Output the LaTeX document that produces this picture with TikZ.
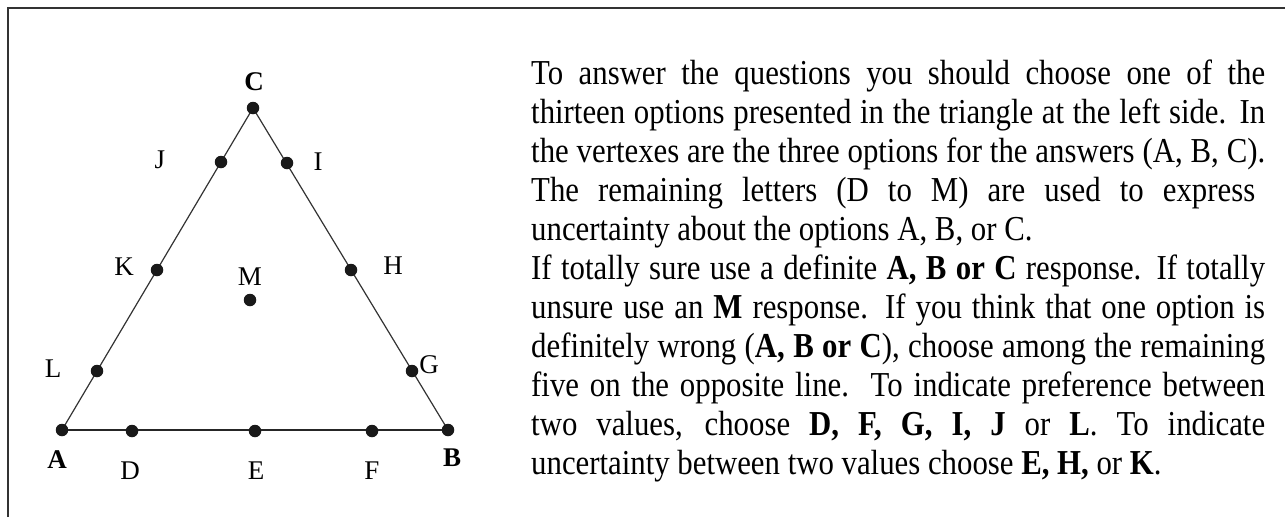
\documentclass[tikz,border=0pt]{standalone}
\usepackage{fontspec}
\setmainfont{Liberation Serif}[FakeStretch=0.88]
\newfontfamily\lblfont{Liberation Serif}
\begin{document}
\begin{tikzpicture}[x=1pt,y=-1pt,
  optdot/.style={circle, fill=black!90, inner sep=0pt, minimum size=12.5pt},
  optlbl/.style={inner sep=0pt, font=\lblfont\fontsize{27}{29}\selectfont},
  vtxlbl/.style={inner sep=0pt, font=\lblfont\fontsize{27}{29}\selectfont\bfseries},
  textline/.style={anchor=base west, inner sep=0pt, font=\fontsize{35}{39}\selectfont},
  sideedge/.style={line width=1.2pt, black!80},
  baseedge/.style={line width=2.2pt, black!85},
  framebar/.style={line width=2pt, black!80}]
\useasboundingbox (0,0) rectangle (1285,517);
% frame
\coordinate (fr1) at (8,517);
\coordinate (fr2) at (8,8);
\coordinate (fr3) at (1285,8);
\draw[framebar] (fr1) -- (fr2) -- (fr3);
% vertex positions
\coordinate (A) at (62,430);
\coordinate (B) at (448,430);
\coordinate (C) at (253,108);
% edges
\draw[sideedge] (A) -- (C) -- (B);
\draw[baseedge] (A) -- (B);
% dots
\node[optdot] (dA) at (A) {};
\node[optdot] (dB) at (B) {};
\node[optdot] (dC) at (C) {};
\node[optdot] (dD) at (132,431) {};
\node[optdot] (dE) at (255,431) {};
\node[optdot] (dF) at (372,431) {};
\node[optdot] (dG) at (412,371) {};
\node[optdot] (dH) at (351,270) {};
\node[optdot] (dI) at (287,163) {};
\node[optdot] (dJ) at (221,162) {};
\node[optdot] (dK) at (157,270) {};
\node[optdot] (dL) at (97,371) {};
\node[optdot] (dM) at (250,300) {};
% labels
\node[vtxlbl] (lC) at (254,82) {C};
\node[vtxlbl] (lA) at (57,460) {A};
\node[vtxlbl] (lB) at (452,458) {B};
\node[optlbl] (lD) at (130,471) {D};
\node[optlbl] (lE) at (256,471) {E};
\node[optlbl] (lF) at (372,471) {F};
\node[optlbl] (lJ) at (160,160) {J};
\node[optlbl] (lI) at (318,162) {I};
\node[optlbl] (lK) at (124,267) {K};
\node[optlbl] (lH) at (393,266) {H};
\node[optlbl] (lM) at (250,277) {M};
\node[optlbl] (lL) at (53,369) {L};
\node[optlbl] (lG) at (429,365) {G};
% text
\node[textline] (t1) at (531,84) {\makebox[734pt][s]{To answer the questions you should choose one of the}};
\node[textline] (t2) at (531,123) {\makebox[734pt][s]{thirteen options presented in the triangle at the left side. In}};
\node[textline] (t3) at (531,162) {\makebox[734pt][s]{the vertexes are the three options for the answers (A, B, C).}};
\node[textline] (t4) at (531,201) {\makebox[724pt][s]{The remaining letters (D to M) are used to express}};
\node[textline] (t5) at (531,240) {uncertainty about the options A, B, or C.};
\node[textline] (t6) at (531,279) {\makebox[734pt][s]{If totally sure use a definite \textbf{A, B or C} response. If totally}};
\node[textline] (t7) at (531,318) {\makebox[734pt][s]{unsure use an \textbf{M} response. If you think that one option is}};
\node[textline] (t8) at (531,357) {\makebox[734pt][s]{definitely wrong (\textbf{A, B or C}), choose among the remaining}};
\node[textline] (t9) at (531,396) {\makebox[734pt][s]{five on the opposite line.\ \ To indicate preference between}};
\node[textline] (t10) at (531,435) {\makebox[734pt][s]{two values, choose \textbf{D, F, G, I, J} or \textbf{L}. To indicate}};
\node[textline] (t11) at (531,474) {uncertainty between two values choose \textbf{E, H,} or \textbf{K}.};
\end{tikzpicture}
\end{document}
